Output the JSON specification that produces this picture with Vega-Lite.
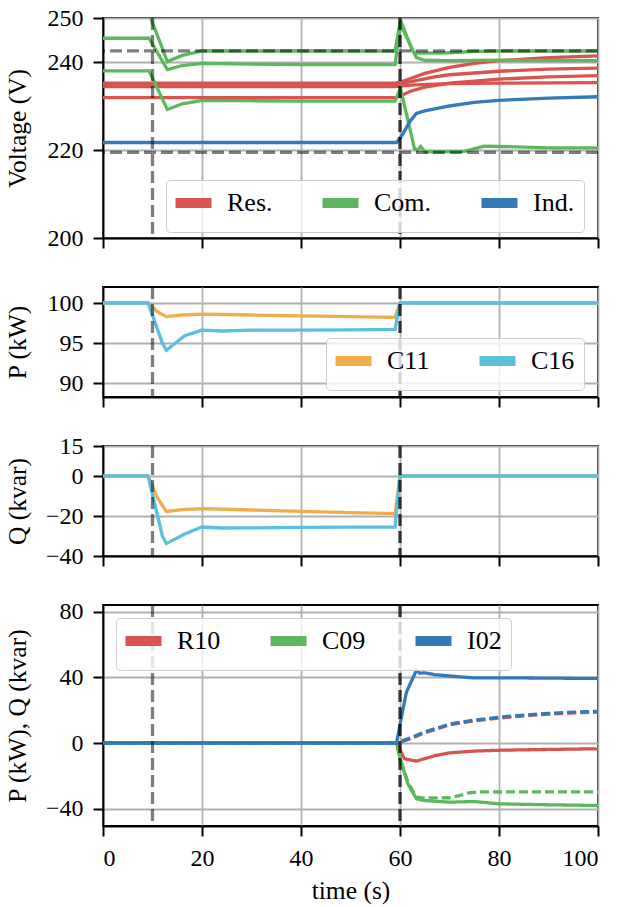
{
  "$schema": "https://vega.github.io/schema/vega-lite/v6.json",
  "background": "white",
  "padding": {"left": 4, "top": 5, "right": 5, "bottom": 1},
  "spacing": 49,
  "bounds": "flush",
  "resolve": {"scale": {"color": "independent", "y": "independent", "strokeDash": "independent"}, "legend": {"color": "independent"}},
  "datasets": {
    "volt": [
      {"s":"R1","cat":"Res.","t":0,"v":235.2},{"s":"R1","cat":"Res.","t":59,"v":235.2},{"s":"R1","cat":"Res.","t":60,"v":235.4},{"s":"R1","cat":"Res.","t":62,"v":236.2},{"s":"R1","cat":"Res.","t":65,"v":237.4},{"s":"R1","cat":"Res.","t":70,"v":238.8},{"s":"R1","cat":"Res.","t":75,"v":239.7},{"s":"R1","cat":"Res.","t":80,"v":240.3},{"s":"R1","cat":"Res.","t":90,"v":241},{"s":"R1","cat":"Res.","t":100,"v":241.4},
      {"s":"R2","cat":"Res.","t":0,"v":234.8},{"s":"R2","cat":"Res.","t":59,"v":234.8},{"s":"R2","cat":"Res.","t":60,"v":235},{"s":"R2","cat":"Res.","t":63,"v":235.7},{"s":"R2","cat":"Res.","t":67,"v":236.6},{"s":"R2","cat":"Res.","t":70,"v":237.1},{"s":"R2","cat":"Res.","t":80,"v":237.9},{"s":"R2","cat":"Res.","t":90,"v":238.4},{"s":"R2","cat":"Res.","t":100,"v":238.6},
      {"s":"R3","cat":"Res.","t":0,"v":231.9},{"s":"R3","cat":"Res.","t":59,"v":231.9},{"s":"R3","cat":"Res.","t":60,"v":232.2},{"s":"R3","cat":"Res.","t":62,"v":233.3},{"s":"R3","cat":"Res.","t":65,"v":234.3},{"s":"R3","cat":"Res.","t":70,"v":235.2},{"s":"R3","cat":"Res.","t":80,"v":236.1},{"s":"R3","cat":"Res.","t":90,"v":236.6},{"s":"R3","cat":"Res.","t":100,"v":236.9},
      {"s":"R4","cat":"Res.","t":0,"v":234.4},{"s":"R4","cat":"Res.","t":59,"v":234.4},{"s":"R4","cat":"Res.","t":60,"v":234.5},{"s":"R4","cat":"Res.","t":63,"v":234.8},{"s":"R4","cat":"Res.","t":70,"v":235.1},{"s":"R4","cat":"Res.","t":80,"v":235.2},{"s":"R4","cat":"Res.","t":100,"v":235.3},
      {"s":"G1","cat":"Com.","t":0,"v":245.4},{"s":"G1","cat":"Com.","t":9.3,"v":245.4},{"s":"G1","cat":"Com.","t":13,"v":238.3},{"s":"G1","cat":"Com.","t":16,"v":239.2},{"s":"G1","cat":"Com.","t":20,"v":239.7},{"s":"G1","cat":"Com.","t":30,"v":239.5},{"s":"G1","cat":"Com.","t":40,"v":239.4},{"s":"G1","cat":"Com.","t":59,"v":239.4},{"s":"G1","cat":"Com.","t":60.1,"v":248.6},{"s":"G1","cat":"Com.","t":63.3,"v":241},{"s":"G1","cat":"Com.","t":65,"v":240.4},{"s":"G1","cat":"Com.","t":70,"v":240.3},{"s":"G1","cat":"Com.","t":80,"v":240.4},{"s":"G1","cat":"Com.","t":100,"v":240.3},
      {"s":"G2","cat":"Com.","t":0,"v":251},{"s":"G2","cat":"Com.","t":9.3,"v":251},{"s":"G2","cat":"Com.","t":13,"v":240.1},{"s":"G2","cat":"Com.","t":16,"v":241.5},{"s":"G2","cat":"Com.","t":20,"v":242.5},{"s":"G2","cat":"Com.","t":59,"v":242.5},{"s":"G2","cat":"Com.","t":60.1,"v":249.5},{"s":"G2","cat":"Com.","t":62.5,"v":242.6},{"s":"G2","cat":"Com.","t":63.3,"v":242},{"s":"G2","cat":"Com.","t":70,"v":242.1},{"s":"G2","cat":"Com.","t":75,"v":242.4},{"s":"G2","cat":"Com.","t":80,"v":242.5},{"s":"G2","cat":"Com.","t":100,"v":242.5},
      {"s":"G3","cat":"Com.","t":0,"v":238},{"s":"G3","cat":"Com.","t":9.3,"v":238},{"s":"G3","cat":"Com.","t":13,"v":229.2},{"s":"G3","cat":"Com.","t":16,"v":230.5},{"s":"G3","cat":"Com.","t":20,"v":231.3},{"s":"G3","cat":"Com.","t":30,"v":231.2},{"s":"G3","cat":"Com.","t":40,"v":231.1},{"s":"G3","cat":"Com.","t":59,"v":231.1},{"s":"G3","cat":"Com.","t":60.1,"v":234},{"s":"G3","cat":"Com.","t":62.9,"v":220.4},{"s":"G3","cat":"Com.","t":63.5,"v":219.9},{"s":"G3","cat":"Com.","t":64.2,"v":220.8},{"s":"G3","cat":"Com.","t":65,"v":219.6},{"s":"G3","cat":"Com.","t":73,"v":219.7},{"s":"G3","cat":"Com.","t":77,"v":220.9},{"s":"G3","cat":"Com.","t":80,"v":220.8},{"s":"G3","cat":"Com.","t":90,"v":220.5},{"s":"G3","cat":"Com.","t":100,"v":220.5},
      {"s":"B1","cat":"Ind.","t":0,"v":221.7},{"s":"B1","cat":"Ind.","t":59.3,"v":221.7},{"s":"B1","cat":"Ind.","t":60.5,"v":223.5},{"s":"B1","cat":"Ind.","t":62,"v":226.5},{"s":"B1","cat":"Ind.","t":63.3,"v":228.3},{"s":"B1","cat":"Ind.","t":65,"v":228.9},{"s":"B1","cat":"Ind.","t":70,"v":230},{"s":"B1","cat":"Ind.","t":75,"v":230.8},{"s":"B1","cat":"Ind.","t":80,"v":231.3},{"s":"B1","cat":"Ind.","t":90,"v":231.8},{"s":"B1","cat":"Ind.","t":100,"v":232.1}
    ],
    "limits": [{"v": 242.55}, {"v": 219.45}],
    "pq": [
      {"s":"C11","t":0,"P":100,"Q":0},{"s":"C11","t":9.1,"P":100,"Q":0},{"s":"C11","t":11,"P":98.9,"Q":-11},{"s":"C11","t":12.8,"P":98.3,"Q":-17.7},{"s":"C11","t":16,"P":98.5,"Q":-16.8},{"s":"C11","t":20,"P":98.6,"Q":-16.3},{"s":"C11","t":30,"P":98.5,"Q":-17},{"s":"C11","t":40,"P":98.4,"Q":-17.7},{"s":"C11","t":50,"P":98.3,"Q":-18.3},{"s":"C11","t":59,"P":98.2,"Q":-18.8},{"s":"C11","t":60,"P":100,"Q":0},{"s":"C11","t":100,"P":100,"Q":0},
      {"s":"C16","t":0,"P":100,"Q":0},{"s":"C16","t":9.1,"P":100,"Q":0},{"s":"C16","t":12,"P":95,"Q":-30},{"s":"C16","t":12.8,"P":94.1,"Q":-33.8},{"s":"C16","t":16.5,"P":95.9,"Q":-29},{"s":"C16","t":20,"P":96.6,"Q":-25.5},{"s":"C16","t":24,"P":96.5,"Q":-26},{"s":"C16","t":30,"P":96.6,"Q":-25.9},{"s":"C16","t":40,"P":96.6,"Q":-25.7},{"s":"C16","t":50,"P":96.65,"Q":-25.6},{"s":"C16","t":59,"P":96.7,"Q":-25.5},{"s":"C16","t":60,"P":100,"Q":0},{"s":"C16","t":100,"P":100,"Q":0}
    ],
    "bus": [
      {"s":"R10","kind":"P","t":0,"v":0},{"s":"R10","kind":"P","t":59.3,"v":0},{"s":"R10","kind":"P","t":60.9,"v":-9.6},{"s":"R10","kind":"P","t":63.3,"v":-11},{"s":"R10","kind":"P","t":65,"v":-9.5},{"s":"R10","kind":"P","t":67,"v":-7.7},{"s":"R10","kind":"P","t":70,"v":-6},{"s":"R10","kind":"P","t":75,"v":-4.9},{"s":"R10","kind":"P","t":80,"v":-4.4},{"s":"R10","kind":"P","t":90,"v":-3.9},{"s":"R10","kind":"P","t":100,"v":-3.5},
      {"s":"R10","kind":"Q","t":0,"v":0},{"s":"R10","kind":"Q","t":59.3,"v":0},{"s":"R10","kind":"Q","t":62,"v":2.5},{"s":"R10","kind":"Q","t":65,"v":6.2},{"s":"R10","kind":"Q","t":70,"v":11},{"s":"R10","kind":"Q","t":75,"v":13.5},{"s":"R10","kind":"Q","t":80,"v":15.2},{"s":"R10","kind":"Q","t":85,"v":16.5},{"s":"R10","kind":"Q","t":90,"v":17.6},{"s":"R10","kind":"Q","t":95,"v":18.3},{"s":"R10","kind":"Q","t":100,"v":18.8},
      {"s":"C09","kind":"P","t":0,"v":0},{"s":"C09","kind":"P","t":59.3,"v":0},{"s":"C09","kind":"P","t":60.2,"v":-11.6},{"s":"C09","kind":"P","t":61.6,"v":-24.8},{"s":"C09","kind":"P","t":63.3,"v":-33.9},{"s":"C09","kind":"P","t":65,"v":-35},{"s":"C09","kind":"P","t":70,"v":-36},{"s":"C09","kind":"P","t":75,"v":-35.6},{"s":"C09","kind":"P","t":80,"v":-37},{"s":"C09","kind":"P","t":90,"v":-37.6},{"s":"C09","kind":"P","t":100,"v":-38},
      {"s":"C09","kind":"Q","t":0,"v":0},{"s":"C09","kind":"Q","t":59.3,"v":0},{"s":"C09","kind":"Q","t":60.2,"v":-11},{"s":"C09","kind":"Q","t":61.6,"v":-24},{"s":"C09","kind":"Q","t":63.3,"v":-33},{"s":"C09","kind":"Q","t":65,"v":-33.5},{"s":"C09","kind":"Q","t":70,"v":-33.3},{"s":"C09","kind":"Q","t":72,"v":-32},{"s":"C09","kind":"Q","t":74,"v":-30.3},{"s":"C09","kind":"Q","t":76,"v":-29.7},{"s":"C09","kind":"Q","t":80,"v":-29.8},{"s":"C09","kind":"Q","t":90,"v":-29.7},{"s":"C09","kind":"Q","t":100,"v":-29.8},
      {"s":"I02","kind":"P","t":0,"v":0},{"s":"I02","kind":"P","t":59.3,"v":0},{"s":"I02","kind":"P","t":60.3,"v":16},{"s":"I02","kind":"P","t":61.3,"v":31},{"s":"I02","kind":"P","t":63.3,"v":44.2},{"s":"I02","kind":"P","t":64,"v":42.5},{"s":"I02","kind":"P","t":65,"v":42.7},{"s":"I02","kind":"P","t":67,"v":41.6},{"s":"I02","kind":"P","t":70,"v":40.8},{"s":"I02","kind":"P","t":75,"v":39.6},{"s":"I02","kind":"P","t":80,"v":39.7},{"s":"I02","kind":"P","t":90,"v":39.5},{"s":"I02","kind":"P","t":100,"v":39.3},
      {"s":"I02","kind":"Q","t":0,"v":0},{"s":"I02","kind":"Q","t":59.3,"v":0},{"s":"I02","kind":"Q","t":62,"v":3},{"s":"I02","kind":"Q","t":65,"v":6.7},{"s":"I02","kind":"Q","t":70,"v":11.5},{"s":"I02","kind":"Q","t":75,"v":14},{"s":"I02","kind":"Q","t":80,"v":15.7},{"s":"I02","kind":"Q","t":85,"v":17},{"s":"I02","kind":"Q","t":90,"v":18.1},{"s":"I02","kind":"Q","t":95,"v":18.8},{"s":"I02","kind":"Q","t":100,"v":19.3}
    ]
  },
  "vconcat": [
    {
      "width": 495, "height": 220,
      "layer": [
        {
          "data": {"name": "volt"},
          "mark": {"type": "line", "strokeWidth": 3.3, "clip": true},
          "encoding": {
            "x": {"field": "t", "type": "quantitative", "scale": {"domain": [0, 100], "nice": false}, "axis": {"values": [0, 20, 40, 60, 80, 100], "labels": false, "title": null}},
            "y": {"field": "v", "type": "quantitative", "scale": {"domain": [200, 250], "nice": false, "zero": false}, "axis": {"values": [200, 220, 240, 250], "format": "d", "title": "Voltage (V)", "titleX": -73}},
            "color": {"field": "cat", "type": "nominal", "scale": {"domain": ["Res.", "Com.", "Ind."], "range": ["#d9534f", "#5cb85c", "#337ab7"]}, "legend": {"title": null, "orient": "none", "legendX": 63, "legendY": 162}},
            "detail": {"field": "s", "type": "nominal"}
          }
        },
        {
          "data": {"name": "limits"},
          "mark": {"type": "rule", "color": "black", "opacity": 0.5, "strokeWidth": 3.3, "strokeDash": [12, 5]},
          "encoding": {"y": {"field": "v", "type": "quantitative"}}
        },
        {
          "data": {"values": [{"t": 10}]},
          "mark": {"type": "rule", "color": "black", "opacity": 0.5, "strokeWidth": 3.3, "strokeDash": [12, 5]},
          "encoding": {"x": {"field": "t", "type": "quantitative"}}
        },
        {
          "data": {"values": [{"t": 60}]},
          "mark": {"type": "rule", "color": "black", "opacity": 0.75, "strokeWidth": 3.3, "strokeDash": [12, 5]},
          "encoding": {"x": {"field": "t", "type": "quantitative"}}
        }
      ]
    },
    {
      "width": 495, "height": 110,
      "layer": [
        {
          "data": {"name": "pq"},
          "mark": {"type": "line", "strokeWidth": 3.3, "clip": true},
          "encoding": {
            "x": {"field": "t", "type": "quantitative", "scale": {"domain": [0, 100], "nice": false}, "axis": {"values": [0, 20, 40, 60, 80, 100], "labels": false, "title": null}},
            "y": {"field": "P", "type": "quantitative", "scale": {"domain": [88.25, 102], "nice": false, "zero": false}, "axis": {"values": [90, 95, 100], "format": "d", "title": "P (kW)", "titleX": -73}},
            "color": {"field": "s", "type": "nominal", "scale": {"domain": ["C11", "C16"], "range": ["#f0ad4e", "#5bc0de"]}, "legend": {"title": null, "orient": "none", "legendX": 223, "legendY": 51}}
          }
        },
        {
          "data": {"values": [{"t": 10}]},
          "mark": {"type": "rule", "color": "black", "opacity": 0.5, "strokeWidth": 3.3, "strokeDash": [12, 5]},
          "encoding": {"x": {"field": "t", "type": "quantitative"}}
        },
        {
          "data": {"values": [{"t": 60}]},
          "mark": {"type": "rule", "color": "black", "opacity": 0.75, "strokeWidth": 3.3, "strokeDash": [12, 5]},
          "encoding": {"x": {"field": "t", "type": "quantitative"}}
        }
      ]
    },
    {
      "width": 495, "height": 110,
      "layer": [
        {
          "data": {"name": "pq"},
          "mark": {"type": "line", "strokeWidth": 3.3, "clip": true},
          "encoding": {
            "x": {"field": "t", "type": "quantitative", "scale": {"domain": [0, 100], "nice": false}, "axis": {"values": [0, 20, 40, 60, 80, 100], "labels": false, "title": null}},
            "y": {"field": "Q", "type": "quantitative", "scale": {"domain": [-40, 15], "nice": false, "zero": false}, "axis": {"values": [-40, -20, 0, 15], "format": "d", "title": "Q (kvar)", "titleX": -73}},
            "color": {"field": "s", "type": "nominal", "scale": {"domain": ["C11", "C16"], "range": ["#f0ad4e", "#5bc0de"]}, "legend": null}
          }
        },
        {
          "data": {"values": [{"t": 10}]},
          "mark": {"type": "rule", "color": "black", "opacity": 0.5, "strokeWidth": 3.3, "strokeDash": [12, 5]},
          "encoding": {"x": {"field": "t", "type": "quantitative"}}
        },
        {
          "data": {"values": [{"t": 60}]},
          "mark": {"type": "rule", "color": "black", "opacity": 0.75, "strokeWidth": 3.3, "strokeDash": [12, 5]},
          "encoding": {"x": {"field": "t", "type": "quantitative"}}
        }
      ]
    },
    {
      "width": 495, "height": 221,
      "layer": [
        {
          "data": {"name": "bus"},
          "mark": {"type": "line", "strokeWidth": 3.3, "clip": true},
          "encoding": {
            "x": {"field": "t", "type": "quantitative", "scale": {"domain": [0, 100], "nice": false}, "axis": {"values": [0, 20, 40, 60, 80, 100], "format": "d", "title": "time (s)"}},
            "y": {"field": "v", "type": "quantitative", "scale": {"domain": [-50.5, 84], "nice": false, "zero": false}, "axis": {"values": [-40, 0, 40, 80], "format": "d", "title": "P (kW), Q (kvar)", "titleX": -73}},
            "color": {"field": "s", "type": "nominal", "scale": {"domain": ["R10", "C09", "I02"], "range": ["#d9534f", "#5cb85c", "#337ab7"]}, "legend": {"title": null, "orient": "none", "legendX": 13, "legendY": 13}},
            "strokeDash": {"field": "kind", "type": "nominal", "scale": {"domain": ["P", "Q"], "range": [[1, 0], [9, 4]]}, "legend": null}
          }
        },
        {
          "data": {"values": [{"t": 10}]},
          "mark": {"type": "rule", "color": "black", "opacity": 0.5, "strokeWidth": 3.3, "strokeDash": [12, 5]},
          "encoding": {"x": {"field": "t", "type": "quantitative"}}
        },
        {
          "data": {"values": [{"t": 60}]},
          "mark": {"type": "rule", "color": "black", "opacity": 0.75, "strokeWidth": 3.3, "strokeDash": [12, 5]},
          "encoding": {"x": {"field": "t", "type": "quantitative"}}
        }
      ]
    }
  ],
  "config": {
    "font": "Liberation Serif",
    "view": {"stroke": "black", "strokeWidth": 1.8},
    "axis": {
      "labelFont": "Liberation Serif", "titleFont": "Liberation Serif",
      "labelFontSize": 24, "titleFontSize": 25.5, "titleFontWeight": "normal",
      "labelColor": "black", "titleColor": "black",
      "domainColor": "black", "domainWidth": 1.8,
      "tickColor": "black", "tickWidth": 2, "tickSize": 10,
      "labelPadding": 10, "titlePadding": 8,
      "gridColor": "#b0b0b0", "gridWidth": 1.8, "gridOpacity": 1,
      "grid": true
    },
    "legend": {
      "orient": "none", "direction": "horizontal", "columns": 3,
      "symbolType": "M-1.5,0H2.5", "symbolStrokeWidth": 10, "symbolSize": 324,
      "labelFont": "Liberation Serif", "labelFontSize": 26, "labelColor": "black",
      "fillColor": "rgba(255,255,255,0.8)", "strokeColor": "#cccccc", "cornerRadius": 4,
      "padding": 9, "columnPadding": 29, "labelOffset": 24
    }
  }
}
